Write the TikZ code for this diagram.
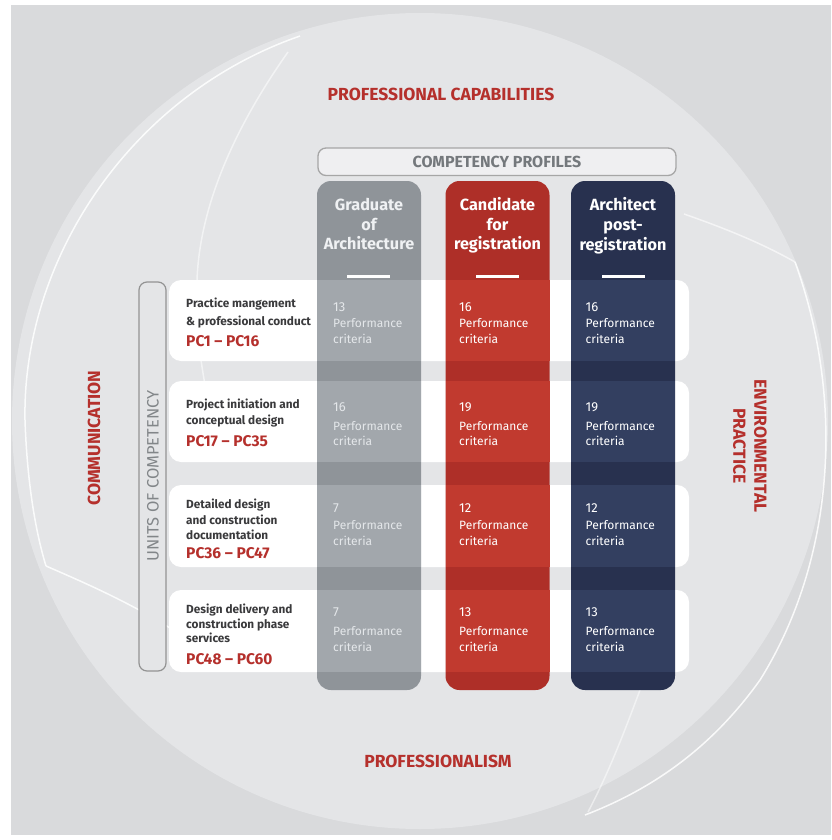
\documentclass[tikz,border=0pt]{standalone}
\usepackage{fontspec}
\setmainfont{Fira Sans}
\definecolor{bgout}{HTML}{D9DADC}
\definecolor{bgdisk}{HTML}{E4E5E7}
\definecolor{labred}{HTML}{B5302C}
\definecolor{labdark}{HTML}{3A3A3C}
\definecolor{cpgray}{HTML}{74787C}
\definecolor{gdark}{HTML}{8F9499}
\definecolor{glight}{HTML}{A2A7AC}
\definecolor{rdark}{HTML}{AE2F28}
\definecolor{rlight}{HTML}{C13A2F}
\definecolor{ndark}{HTML}{28314F}
\definecolor{nlight}{HTML}{333F60}
\definecolor{gtext}{HTML}{E4E7EA}
\newcommand\mycell[6]{%
  \node[numtxt] (#1n) at (#2,#4) {#3};
  \node[crittxt] (#1p) at (#2,#5) {Performance};
  \node[crittxt] (#1c) at (#2,#6) {criteria};
}
\begin{document}
\begin{tikzpicture}[x=1pt,y=-1pt,
  arcline/.style={draw=white, line width=1.5pt, opacity=0.85},
  bigcap/.style={text=labred, inner sep=0, font=\bfseries\fontsize{17.5}{21}\selectfont},
  rowtxt/.style={anchor=base west, inner sep=0, text=labdark, font=\bfseries\fontsize{11.8}{14}\selectfont},
  pctxt/.style={anchor=base west, inner sep=0, text=labred, font=\bfseries\fontsize{15.5}{18}\selectfont},
  numtxt/.style={anchor=base west, inner sep=0, font=\fontsize{13}{15}\selectfont},
  crittxt/.style={anchor=base west, inner sep=0, font=\fontsize{12}{14}\selectfont},
  hdrtxt/.style={anchor=base, inner sep=0, text=white, font=\bfseries\fontsize{16.2}{19}\selectfont},
  rowbox/.style={fill=white, rounded corners=12pt},
  colbox/.style={rounded corners=14pt},
  dashbar/.style={fill=white}
]
\useasboundingbox (0,0) rectangle (831,840);
\fill[white] (0,0) rectangle (831,840);
\fill[bgout] (11,5) rectangle (831,835);
\begin{scope}
  \clip (11,5) rectangle (831,835);
  \fill[bgdisk] (420,421) circle (408);
  % decorative arcs
  \draw[arcline] (300,36) .. controls (130,95) and (22,260) .. (25,420) .. controls (27,480) and (35,530) .. (46,566);
  \draw[arcline] (46,566) .. controls (90,585) and (130,603) .. (170,628);
  \draw[arcline, opacity=0.55] (288,52) .. controls (240,120) and (200,200) .. (197,280) .. controls (196,320) and (198,345) .. (205,385);
  \draw[arcline, opacity=0.6] (684,214) .. controls (730,230) and (765,245) .. (795,262);
  \draw[arcline] (795,262) .. controls (845,400) and (835,560) .. (760,680) .. controls (710,750) and (650,790) .. (585,815);
  \draw[arcline, opacity=0.5] (640,690) .. controls (625,730) and (610,770) .. (588,812);
\end{scope}

% titles
\node[bigcap] (pcap) at (441,94) {PROFESSIONAL CAPABILITIES};
\node[bigcap] (prof) at (438,761) {PROFESSIONALISM};
\node[bigcap, rotate=90] (comm) at (94,438) {COMMUNICATION};
\node[bigcap, rotate=-90, align=center] (env) at (750,446) {ENVIRONMENTAL\\PRACTICE};

% competency profiles box
\draw[draw=gray!70, fill=white!40!bgdisk, line width=1.3pt, rounded corners=8pt] (318,148) rectangle (676,175.5);
\node[inner sep=0, text=cpgray, font=\bfseries\fontsize{16}{19}\selectfont] (cprof) at (497,162) {COMPETENCY PROFILES};

% units of competency box
\draw[draw=gray!85, fill=bgdisk, line width=1.2pt, rounded corners=8pt] (139,282) rectangle (166,671);
\node[inner sep=0, rotate=90, text=cpgray!90, font=\fontsize{16.5}{19}\selectfont] (units) at (153,476) {UNITS OF COMPETENCY};

% rows
\fill[rowbox] (169,280) rectangle (689,361);
\fill[rowbox] (169,381) rectangle (689,462);
\fill[rowbox] (169,485) rectangle (689,567);
\fill[rowbox] (169,590) rectangle (689,672);

% columns
\fill[colbox, gdark] (317,181) rectangle (421,690);
\fill[colbox, rdark] (445.5,181) rectangle (549.5,690);
\fill[colbox, ndark] (571,181) rectangle (675,690);
\foreach \ya/\yb in {280/361, 381/462, 485/567, 590/672} {
  \fill[glight] (317,\ya) rectangle (421,\yb);
  \fill[rlight] (445.5,\ya) rectangle (549.5,\yb);
  \fill[nlight] (571,\ya) rectangle (675,\yb);
}

% column headers
\node[hdrtxt, text=gtext!60!white] (h1a) at (369,210.7) {Graduate};
\node[hdrtxt, text=gtext!60!white] (h1b) at (369,230) {of};
\node[hdrtxt, text=gtext!60!white] (h1c) at (369,249.5) {Architecture};
\node[hdrtxt] (h2a) at (497.5,210.7) {Candidate};
\node[hdrtxt] (h2b) at (497.5,230) {for};
\node[hdrtxt] (h2c) at (497.5,249.5) {registration};
\node[hdrtxt] (h3a) at (623,210.7) {Architect};
\node[hdrtxt] (h3b) at (623,230.7) {post-};
\node[hdrtxt] (h3c) at (623,250) {registration};
\fill[dashbar] (347,275.2) rectangle (390,278.4);
\fill[dashbar] (476,275.2) rectangle (519,278.4);
\fill[dashbar] (601.5,275.2) rectangle (644.5,278.4);

% row labels
\node[rowtxt] (a1) at (186,307.7) {Practice mangement};
\node[rowtxt] (a2) at (186,325) {\& professional conduct};
\node[pctxt] (a3) at (186,346) {PC1 – PC16};
\node[rowtxt] (b1) at (186,408.3) {Project initiation and};
\node[rowtxt] (b2) at (186,424) {conceptual design};
\node[pctxt] (b3) at (186,446) {PC17 – PC35};
\node[rowtxt] (c1) at (186,508) {Detailed design};
\node[rowtxt] (c2) at (186,524) {and construction};
\node[rowtxt] (c3) at (186,539) {documentation};
\node[pctxt] (c4) at (186,558) {PC36 – PC47};
\node[rowtxt] (d1) at (186,613) {Design delivery and};
\node[rowtxt] (d2) at (186,628) {construction phase};
\node[rowtxt] (d3) at (186,642.7) {services};
\node[pctxt] (d4) at (186,664) {PC48 – PC60};

% cells
\begin{scope}[every node/.append style={text=gtext}]
\mycell{g1}{333}{13}{311.5}{327.5}{343}
\mycell{g2}{333}{16}{411.5}{430}{445.5}
\mycell{g3}{333}{7}{512.5}{529}{545}
\mycell{g4}{333}{7}{616.5}{635.5}{651.5}
\end{scope}
\begin{scope}[every node/.append style={text=white}]
\mycell{r1}{459}{16}{311.5}{327.5}{343}
\mycell{r2}{459}{19}{411.5}{430}{445.5}
\mycell{r3}{459}{12}{512.5}{529}{545}
\mycell{r4}{459}{13}{616.5}{635.5}{651.5}
\mycell{n1}{585.5}{16}{311.5}{327.5}{343}
\mycell{n2}{585.5}{19}{411.5}{430}{445.5}
\mycell{n3}{585.5}{12}{512.5}{529}{545}
\mycell{n4}{585.5}{13}{616.5}{635.5}{651.5}
\end{scope}
\end{tikzpicture}
\end{document}
